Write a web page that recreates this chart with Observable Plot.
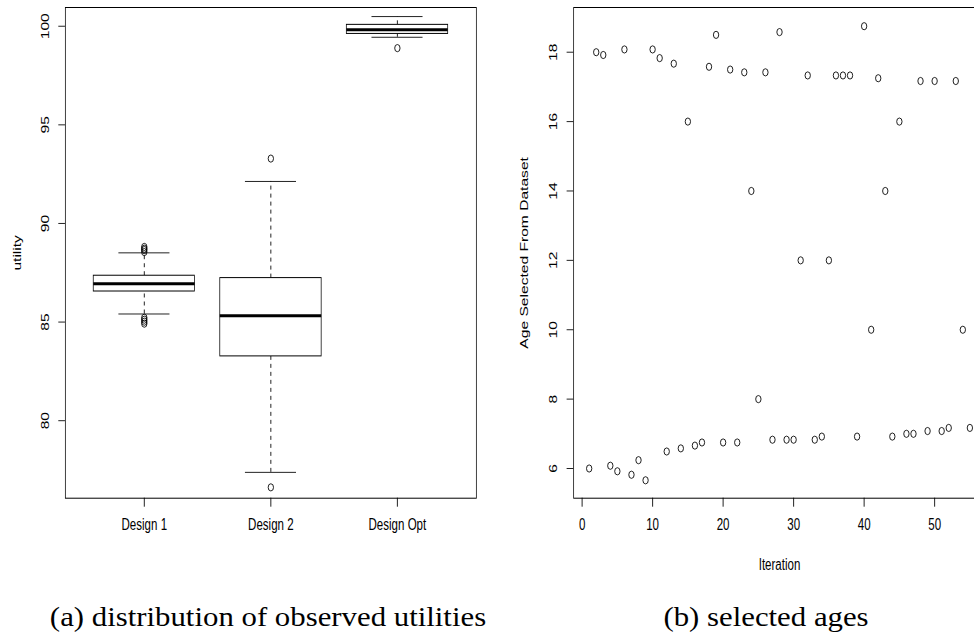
<!DOCTYPE html>
<html>
<head>
<meta charset="utf-8">
<script src="https://cdn.jsdelivr.net/npm/d3@7"></script>
<script src="https://cdn.jsdelivr.net/npm/@observablehq/plot@0.6"></script>
<style>
  html, body { margin: 0; padding: 0; background: #fff; }
  body { width: 974px; height: 634px; overflow: hidden; position: relative; }
  .panel { position: absolute; top: 0; width: 720px; height: 634px; }
  .panel svg { transform-origin: 0 0; transform: scaleX(0.74); overflow: visible; display: block; max-width: none !important; }
  .cap { position: absolute; top: 603px; font-family: "Liberation Serif", "Times New Roman", serif;
         font-size: 28px; line-height: 28px; white-space: nowrap; color: #000;
         transform: translateX(-50%) scaleX(1.1); z-index: 5; }
</style>
</head>
<body>
<div id="left" class="panel" style="left:0px"></div>
<div id="right" class="panel" style="left:487px"></div>
<div class="cap" style="left:268px">(a) distribution of observed utilities</div>
<div class="cap" style="left:766px">(b) selected ages</div>
<script>
// ---- Panel (a): boxplot summary values ----
const categories   = ["Design 1", "Design 2", "Design Opt"];
const whiskerLow   = [85.41, 77.38, 99.44];
const lowerQuart   = [86.55, 83.26, 99.61];
const medians      = [86.94, 85.32, 99.82];
const upperQuart   = [87.35, 87.23, 100.07];
const whiskerHigh  = [88.51, 92.13, 100.49];
const outlierGroup = ["Design 1", "Design 1", "Design 1", "Design 1",
                      "Design 1", "Design 1", "Design 1", "Design 1",
                      "Design 2", "Design 2", "Design Opt"];
const outlierValue = [88.55, 88.65, 88.72, 88.81,
                      85.22, 85.12, 85.02, 84.92,
                      93.29, 76.62, 98.89];
const utilityTicks = [80, 85, 90, 95, 100];

// ---- Panel (b): selected ages per iteration ----
const iteration = [1,2,3,4,5,6,7,8,9,10,11,12,13,14,15,16,17,18,19,20,
                   21,22,23,24,25,26,27,28,29,30,31,32,33,34,35,36,37,38,39,40,
                   41,42,43,44,45,46,47,48,49,50,51,52,53,54,55];
const ageSelected = [6.00,18.00,17.92,6.08,5.92,18.08,5.82,6.24,5.66,18.08,
                     17.83,6.49,17.67,6.58,16.00,6.66,6.75,17.58,18.50,6.75,
                     17.50,6.75,17.42,14.00,8.00,17.42,6.83,18.58,6.83,6.83,
                     12.00,17.33,6.83,6.92,12.00,17.33,17.33,17.33,6.92,18.75,
                     10.00,17.25,14.00,6.92,16.00,7.00,7.00,17.17,7.08,17.17,
                     7.08,7.17,17.17,10.00,7.17];
const iterationTicks = [0, 10, 20, 30, 40, 50];
const ageTicks = [6, 8, 10, 12, 14, 16, 18];

// ---- build tables ----
const boxTable = categories.map((c, i) => ({
  cat: c, lo: whiskerLow[i], q1: lowerQuart[i], med: medians[i], q3: upperQuart[i], hi: whiskerHigh[i]
}));
const outlierTable = outlierGroup.map((c, i) => ({cat: c, value: outlierValue[i]}));
const ageTable = iteration.map((it, i) => ({iteration: it, age: ageSelected[i]}));

const font = {fontFamily: "'Liberation Sans', Arial, Helvetica, sans-serif", fontSize: "15.6px",
              color: "black", background: "transparent", maxWidth: "none"};

const left = Plot.plot({
  width: 658, height: 634,
  marginLeft: 87.8, marginRight: 14.8, marginTop: 7, marginBottom: 136.3,
  style: font,
  x: {type: "band", domain: categories, paddingInner: 0.2, paddingOuter: 0.218},
  y: {domain: [76.07, 100.95]},
  marks: [
    Plot.ruleX(boxTable, {x: "cat", y1: "q3", y2: "hi", stroke: "black", strokeDasharray: "4,4"}),
    Plot.ruleX(boxTable, {x: "cat", y1: "lo", y2: "q1", stroke: "black", strokeDasharray: "4,4"}),
    Plot.tickY(boxTable, {x: "cat", y: "hi", stroke: "black", insetLeft: 34, insetRight: 34}),
    Plot.tickY(boxTable, {x: "cat", y: "lo", stroke: "black", insetLeft: 34, insetRight: 34}),
    Plot.barY(boxTable, {x: "cat", y1: "q1", y2: "q3", fill: "white", stroke: "black", strokeWidth: 1}),
    Plot.tickY(boxTable, {x: "cat", y: "med", stroke: "black", strokeWidth: 3}),
    Plot.dot(outlierTable, {x: "cat", y: "value", r: 3.6, stroke: "black", strokeWidth: 1}),
    Plot.frame({stroke: "black"}),
    Plot.axisX({tickSize: 9, tickPadding: 12, label: null}),
    Plot.axisY({ticks: utilityTicks, tickSize: 9, tickPadding: 13.6, tickRotate: -90,
                label: "utility", labelAnchor: "center", labelOffset: 71, labelArrow: "none"})
  ]
});
document.getElementById("left").appendChild(left);

const right = Plot.plot({
  width: 700, height: 634,
  marginLeft: 116.6, marginRight: 27, marginTop: 7, marginBottom: 136.3,
  style: font,
  x: {domain: [-1.2, 57.2]},
  y: {domain: [5.144, 19.289]},
  marks: [
    Plot.dot(ageTable, {x: "iteration", y: "age", r: 3.6, stroke: "black", strokeWidth: 1}),
    Plot.frame({stroke: "black"}),
    Plot.axisX({ticks: iterationTicks, tickSize: 9, tickPadding: 12,
                label: "Iteration", labelAnchor: "center", labelOffset: 72, labelArrow: "none"}),
    Plot.axisY({ticks: ageTicks, tickSize: 9, tickPadding: 13.6, tickRotate: -90,
                label: "Age Selected From Dataset", labelAnchor: "center", labelOffset: 73, labelArrow: "none"})
  ]
});
document.getElementById("right").appendChild(right);
</script>
</body>
</html>
